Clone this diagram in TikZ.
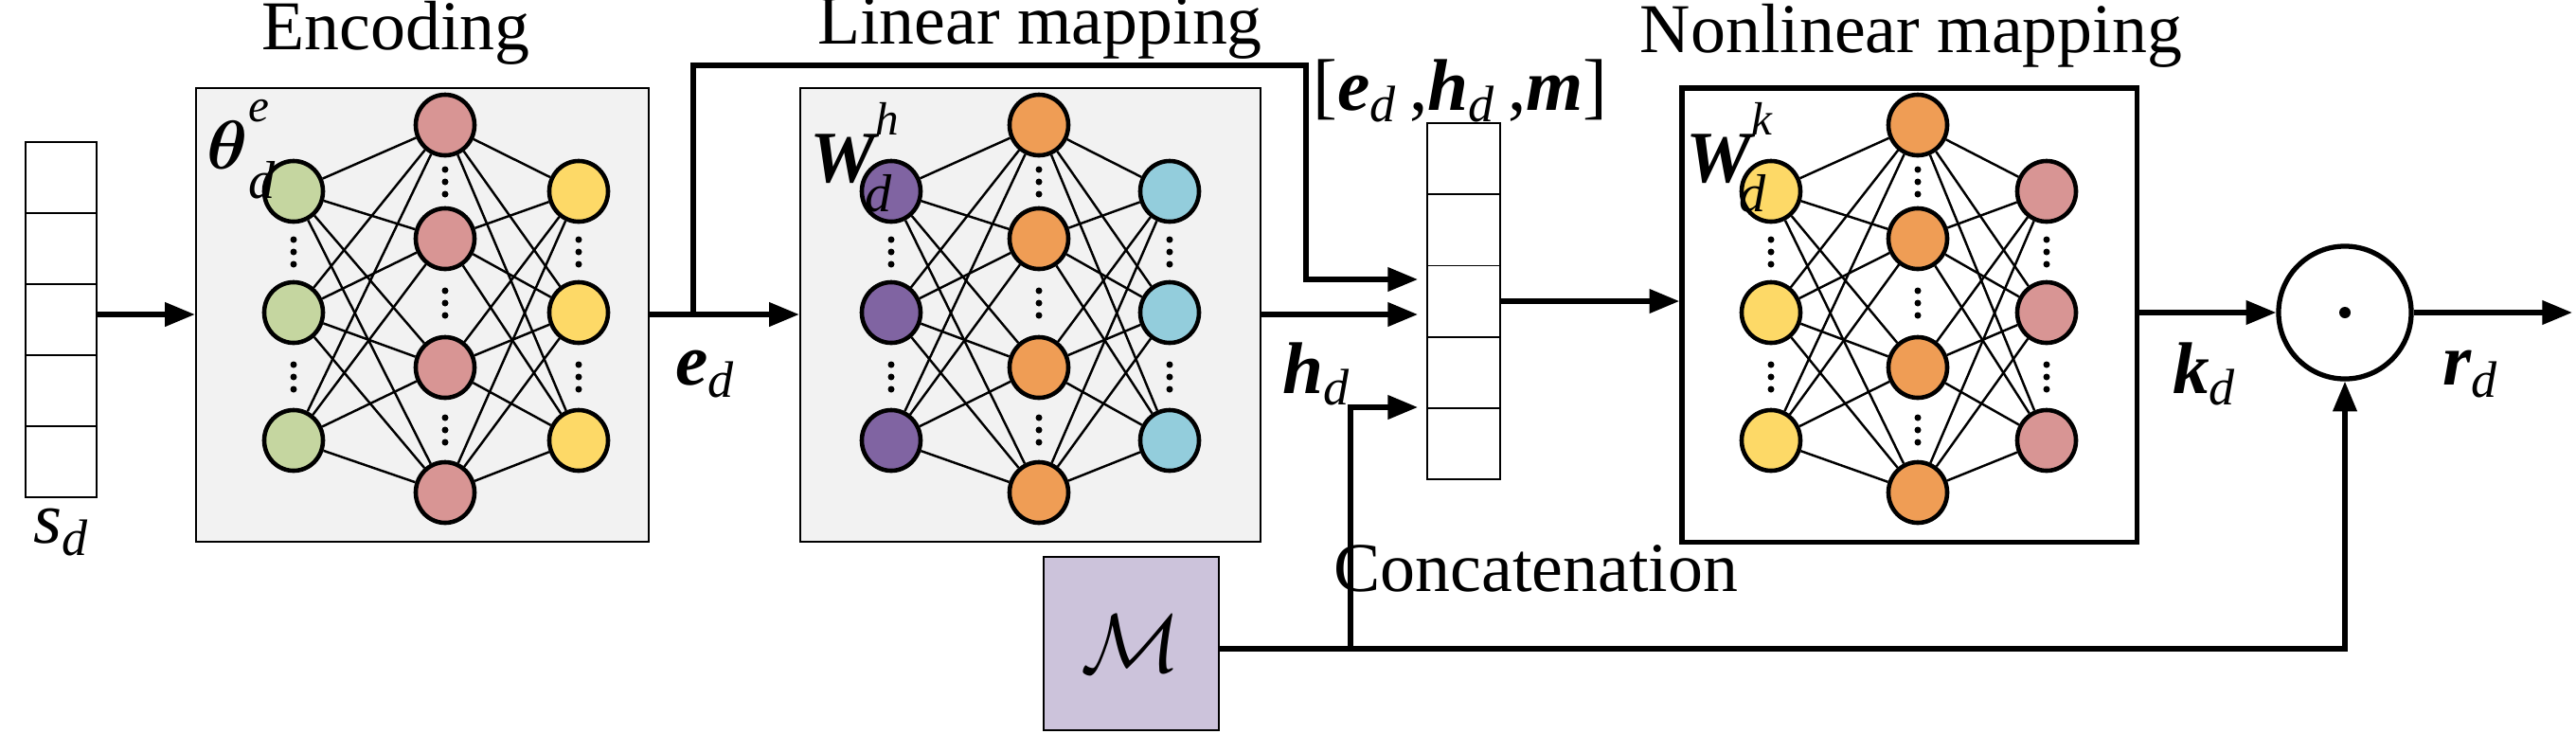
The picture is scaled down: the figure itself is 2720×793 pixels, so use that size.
\documentclass[tikz,border=0pt]{standalone}
\usepackage{amsmath}
\usepackage{fontspec}
\setmainfont{Liberation Serif}
\usetikzlibrary{arrows.meta,shapes.geometric}
\definecolor{cg}{HTML}{C5D6A0}
\definecolor{cp}{HTML}{D89594}
\definecolor{cy}{HTML}{FDD967}
\definecolor{cv}{HTML}{8064A2}
\definecolor{co}{HTML}{EF9D55}
\definecolor{cc}{HTML}{93CDDC}
\definecolor{cm}{HTML}{CCC3DB}
\definecolor{bg}{HTML}{F2F2F2}
\newcommand\vlab[2]{{\bfseries\itshape #1}\textsubscript{\itshape #2}}
\newcommand\mynet[7]{%
  \foreach \i/\y in {1/202,2/330,3/465}{%
    \node[neu,fill=#5] (#1a\i) at (#2,\y) {};
    \node[neu,fill=#7] (#1c\i) at (#4,\y) {};}
  \foreach \j/\y in {1/132,2/252,3/388,4/520}{\node[neu,fill=#6] (#1b\j) at (#3,\y) {};}
  \foreach \i in {1,2,3}{\foreach \j in {1,2,3,4}{%
    \draw[wire] (#1a\i) -- (#1b\j); \draw[wire] (#1b\j) -- (#1c\i);}}
  \foreach \y in {266,398}{\foreach \d in {-13,0,13}{%
    \fill (#2,\y+\d) circle (0.035cm); \fill (#4,\y+\d) circle (0.035cm);}}
  \foreach \y in {192,320,454}{\foreach \d in {-13,0,13}{\fill (#3,\y+\d) circle (0.035cm);}}
}
\tikzset{
  neu/.style={ellipse,draw,line width=1.3pt,minimum width=0.62cm,minimum height=0.64cm,inner sep=0pt},
  wire/.style={line width=0.7pt},
  conn/.style={line width=1.5pt},
  arr/.style={conn,-{Triangle[length=9pt,width=7pt]}},
  cell/.style={draw,line width=0.5pt,minimum width=0.75cm,minimum height=0.75cm,inner sep=0pt},
  ttl/.style={font=\fontsize{21}{24}\selectfont},
  ml/.style={font=\fontsize{22}{24}\selectfont},
}
\begin{document}
\begin{tikzpicture}[x=0.01cm,y=-0.01cm]
\useasboundingbox (0,0) rectangle (2720,793);
% s vector
\foreach \k/\y in {1/187.5,2/262.5,3/337.5,4/412.5,5/487.5}{\node[cell] (s\k) at (64.5,\y) {};}
\node[ml] (slab) at (65,562) {\itshape s\textsubscript{d}};
% boxes
\node[draw,fill=bg,line width=0.6pt,minimum width=4.78cm,minimum height=4.79cm,inner sep=0pt] (enc) at (446,332.5) {};
\node[draw,fill=bg,line width=0.6pt,minimum width=4.86cm,minimum height=4.79cm,inner sep=0pt] (lin) at (1088,332.5) {};
\node[draw,fill=white,line width=1.5pt,minimum width=4.8cm,minimum height=4.79cm,inner sep=0pt] (non) at (2016,332.5) {};
\node[ttl] (t1) at (418,35) {Encoding};
\node[ttl] (t2) at (1098,30) {Linear mapping};
\node[ttl] (t3) at (2018,38) {Nonlinear mapping};
\mynet{E}{310}{470}{611}{cg}{cp}{cy}
\mynet{L}{941}{1097}{1235}{cv}{co}{cc}
\mynet{N}{1870}{2025}{2161}{cy}{co}{cp}
\node[ml,anchor=north west,inner sep=0pt] (w1) at (218,105) {$\boldsymbol{\theta}$\raisebox{14pt}{\fontsize{14}{14}\selectfont\itshape e}\hspace{-6pt}\raisebox{-9pt}{\fontsize{16}{16}\selectfont\itshape d}};
\node[ml,anchor=north west,inner sep=0pt] (w2) at (855,108) {\bfseries\itshape W\raisebox{14pt}{\mdseries\fontsize{14}{14}\selectfont\itshape h}\hspace{-10pt}\raisebox{-9pt}{\mdseries\fontsize{16}{16}\selectfont\itshape d}};
\node[ml,anchor=north west,inner sep=0pt] (w3) at (1780,108) {\bfseries\itshape W\raisebox{14pt}{\mdseries\fontsize{14}{14}\selectfont\itshape k}\hspace{-10pt}\raisebox{-9pt}{\mdseries\fontsize{16}{16}\selectfont\itshape d}};
% concat vector
\foreach \k/\y in {1/167.6,2/242.8,3/318,4/393.2,5/468.4}{\node[cell,minimum width=0.77cm,minimum height=0.752cm] (c\k) at (1545.5,\y) {};}
\node[ml] (clab) at (1542,96) {[\vlab{e}{d}\,,\vlab{h}{d}\,,{\bfseries\itshape m}]};
\node[ttl] (clab2) at (1622,600) {Concatenation};
% M
\node[draw,fill=cm,line width=0.6pt,minimum width=1.85cm,minimum height=1.83cm,inner sep=0pt] (M) at (1194.5,679.5) {\fontsize{40}{40}\selectfont$\mathcal{M}$};
% product
\node[circle,draw,line width=1.5pt,minimum size=1.4cm,inner sep=0pt] (P) at (2476,330) {};
\fill (P) circle (0.06cm);
% labels
\node[ml] (el) at (745,395) {\vlab{e}{d}};
\node[ml] (hl) at (1390,395) {\vlab{h}{d}};
\node[ml] (kl) at (2328,395) {\vlab{k}{d}};
\node[ml] (rl) at (2609,395) {\vlab{r}{d}};
% connectors
\coordinate (sa) at (102,332);
\coordinate (br) at (732,332);
\coordinate (i1) at (1497,295);
\coordinate (i2) at (1497,332);
\coordinate (i3) at (1497,430);
\coordinate (mj) at (1426,685);
\coordinate (out) at (2716,330);
\draw[arr] (sa) -- (sa -| enc.west);
\draw[arr] (enc.east |- br) -- (lin.west |- br);
\draw[conn,-{Triangle[length=9pt,width=7pt]}] (br) -- (732,69) -- (1379,69) -- (1379,295) -- (i1);
\draw[arr] (lin.east |- i2) -- (i2);
\draw[arr] (c3.east) -- (c3.east -| non.west);
\draw[arr] (M.east |- mj) -- (mj) -- (1426,430) -- (i3);
\draw[arr] (mj) -- (P.south |- mj) -- (P.south);
\draw[arr] (non.east |- P.west) -- (P.west);
\draw[arr] (P.east) -- (out);
\end{tikzpicture}
\end{document}
